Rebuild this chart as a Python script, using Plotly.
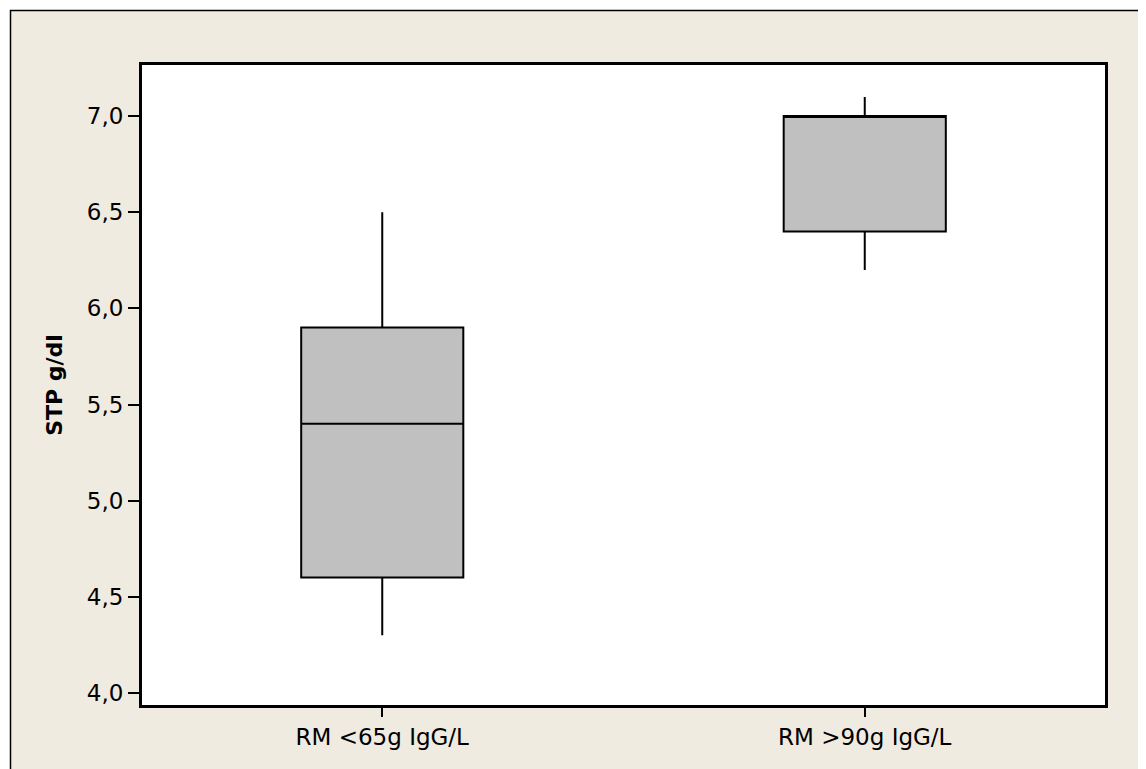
import plotly.graph_objects as go

categories = ["RM <65g IgG/L", "RM >90g IgG/L"]
lower_whisker = [4.3, 6.2]
q1_values = [4.6, 6.4]
median_values = [5.4, 7.0]
q3_values = [5.9, 7.0]
upper_whisker = [6.5, 7.1]
y_ticks = [4.0, 4.5, 5.0, 5.5, 6.0, 6.5, 7.0]

BEIGE = "#F0EBE1"
FONT = "DejaVu Sans"

fig = go.Figure()
fig.add_trace(go.Box(
    x=categories,
    q1=q1_values,
    median=median_values,
    q3=q3_values,
    lowerfence=lower_whisker,
    upperfence=upper_whisker,
    fillcolor="#C0C0C0",
    line=dict(color="black", width=2),
    whiskerwidth=0,
    width=0.336,
    boxpoints=False,
    hoverinfo="skip",
    showlegend=False,
))

# page body has an 8px margin, so the figure is placed at (8, 8)
W, H = 1138, 761
ml, mr, mt, mb = 133, 40, 56, 63
pw, ph = W - ml - mr, H - mt - mb

def px_x(p):
    return (p - ml) / pw

def px_y(p):
    return 1 + (mt - p) / ph

fig.update_layout(
    width=W, height=H,
    margin=dict(l=ml, r=mr, t=mt, b=mb),
    paper_bgcolor="white",
    plot_bgcolor="white",
    separators=",.",
    font=dict(family=FONT, size=23, color="black"),
    shapes=[
        dict(type="rect", xref="paper", yref="paper", layer="below",
             x0=px_x(2.5), x1=1.2, y0=-0.3, y1=px_y(2.5),
             fillcolor=BEIGE, line=dict(color="black", width=1.5)),
        dict(type="rect", xref="paper", yref="paper", layer="below",
             x0=0, x1=1, y0=0, y1=1,
             fillcolor="white", line=dict(color="black", width=2)),
    ],
    xaxis=dict(
        type="category", range=[-0.5, 1.5],
        showgrid=False, zeroline=False,
        showline=True, linecolor="black", linewidth=2, mirror=True,
        ticks="outside", ticklen=9, tickwidth=1.5, tickcolor="black",
        tickfont=dict(family=FONT, size=23),
    ),
    yaxis=dict(
        range=[3.932, 7.271],
        tickvals=y_ticks, tickformat=".1f",
        showgrid=False, zeroline=False,
        showline=True, linecolor="black", linewidth=2, mirror=True,
        ticks="outside", ticklen=11, tickwidth=1.5, tickcolor="black",
        tickfont=dict(family=FONT, size=23),
        title=dict(text="<b>STP g/dl</b>", font=dict(family=FONT, size=22), standoff=18),
    ),
)

fig.write_html("out.html")
